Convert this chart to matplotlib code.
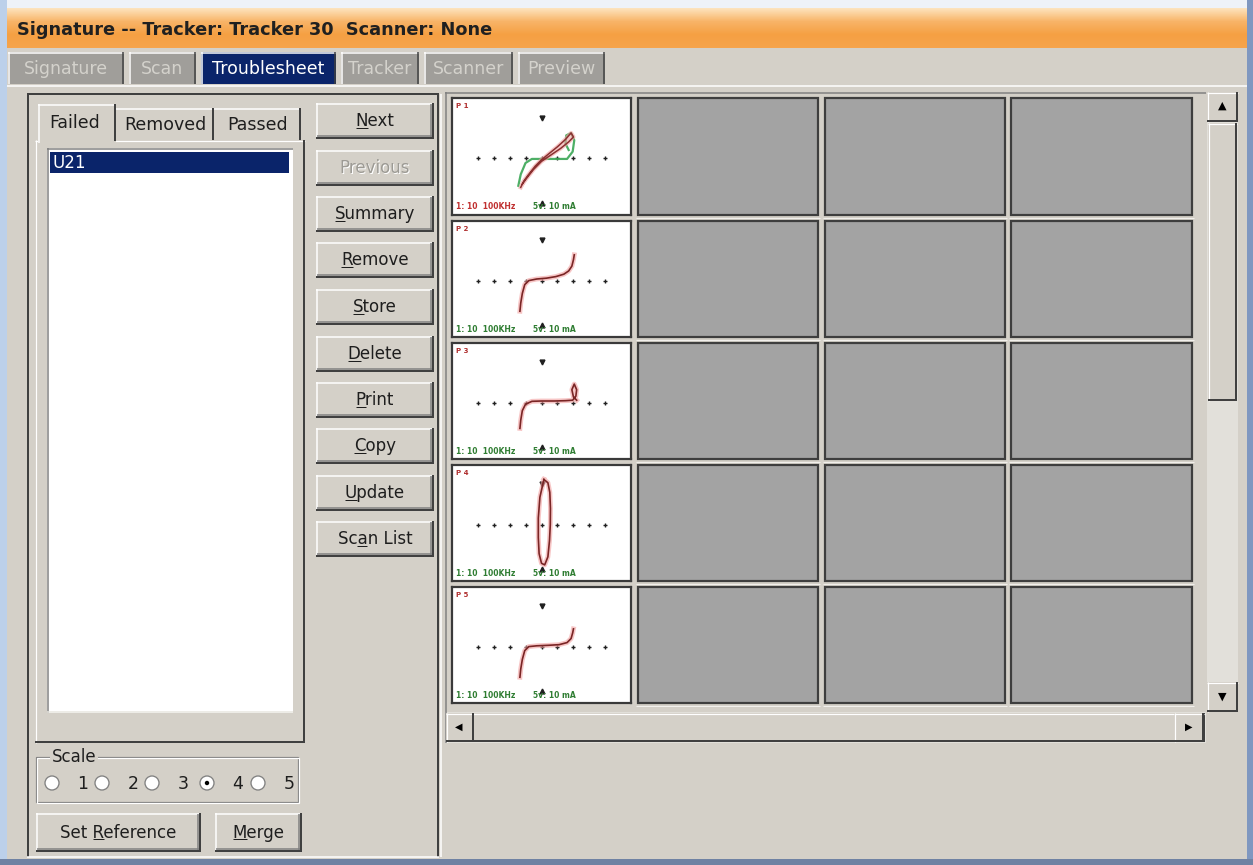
#! /usr/bin/env python
import matplotlib
matplotlib.use('Agg')
import matplotlib.pyplot as plt
from matplotlib.patches import Rectangle, Circle
from matplotlib.colors import LinearSegmentedColormap
import numpy as np

# ---- texts shown in the window ----
title = 'Signature -- Tracker: Tracker 30  Scanner: None'
main_tabs = ['Signature', 'Scan', 'Troublesheet', 'Tracker', 'Scanner', 'Preview']
active_tab = 'Troublesheet'
list_tabs = ['Failed', 'Removed', 'Passed']
failed_parts = ['U21']
buttons = ['Next', 'Previous', 'Summary', 'Remove', 'Store', 'Delete', 'Print', 'Copy', 'Update', 'Scan List']
button_keys = [0, 0, 0, 0, 0, 0, 0, 0, 0, 2]
disabled = ['Previous']
scale_options = ['1', '2', '3', '4', '5']
scale_selected = '4'
pin_labels = ['P 1', 'P 2', 'P 3', 'P 4', 'P 5']
range_text = '1: 10  100KHz'
volt_text = '5v: 10 mA'

# ---- signature traces (grid units: 1 = one tick dot) ----
grid_ticks = [-4, -3, -2, -1, 0, 1, 2, 3, 4]

trace1_red_x = [-1.3, -1.1, -0.8, -0.4, 0.0, 0.5, 1.0, 1.5, 1.85, 2.0, 1.7, 1.2, 0.6, 0.0, -0.5, -0.9, -1.2]
trace1_red_y = [-1.8, -1.4, -1.0, -0.5, -0.1, 0.3, 0.7, 1.15, 1.55, 1.3, 1.0, 0.6, 0.2, -0.2, -0.7, -1.2, -1.6]
trace1_grn_x = [-1.45, -1.3, -1.0, -0.6, 0.2, 1.0, 1.6, 1.95, 2.05, 1.85, 1.55, 1.5, 1.7]
trace1_grn_y = [-1.7, -1.0, -0.3, -0.05, -0.05, -0.05, -0.05, 0.4, 1.1, 1.55, 1.4, 0.9, 0.5]

trace2_x = [-1.35, -1.3, -1.2, -1.05, -0.8, -0.3, 0.3, 0.9, 1.4, 1.7, 1.9, 2.0, 2.05]
trace2_y = [-1.9, -1.4, -0.8, -0.25, 0.0, 0.1, 0.15, 0.25, 0.4, 0.6, 0.9, 1.3, 1.6]

trace3_x = [-1.35, -1.3, -1.2, -1.0, -0.6, 0.0, 0.8, 1.5, 1.95, 2.15, 2.2, 2.05, 1.9, 2.0, 2.2]
trace3_y = [-1.6, -1.1, -0.5, -0.1, 0.08, 0.1, 0.1, 0.12, 0.15, 0.4, 0.8, 1.15, 0.8, 0.35, 0.15]

trace4_x = [0.15, 0.4, 0.52, 0.56, 0.55, 0.5, 0.4, 0.2, 0.0, -0.15, -0.2, -0.2, -0.1, 0.15]
trace4_y = [2.8, 2.6, 2.0, 1.0, 0.0, -1.0, -2.0, -2.5, -2.4, -1.8, -0.8, 0.4, 1.7, 2.8]

trace5_x = [-1.35, -1.3, -1.2, -1.05, -0.8, -0.3, 0.4, 1.1, 1.6, 1.85, 1.95, 2.0]
trace5_y = [-1.9, -1.4, -0.8, -0.25, 0.0, 0.05, 0.08, 0.12, 0.25, 0.5, 0.85, 1.1]

W, H = 1253, 865
BG = '#d4d0c8'
DARK = '#404040'
SHADOW = '#808080'
NAVY = '#0a246a'
PX = 0.72  # points per pixel at 100 dpi

fig = plt.figure(figsize=(W / 100, H / 100), dpi=100)
fig.patch.set_facecolor(BG)
ax = fig.add_axes([0, 0, 1, 1])
ax.set_xlim(0, W)
ax.set_ylim(H, 0)
ax.axis('off')
R = fig.canvas.get_renderer()


def rect(x0, y0, x1, y1, fc, z=1, ec='none', lw=0):
    ax.add_patch(Rectangle((x0, y0), x1 - x0, y1 - y0, facecolor=fc,
                           edgecolor=ec, linewidth=lw * PX, zorder=z))


def hline(x0, x1, y, c, w=1, z=3):
    ax.plot([x0, x1], [y, y], color=c, lw=w * PX, zorder=z, solid_capstyle='butt')


def vline(x, y0, y1, c, w=1, z=3):
    ax.plot([x, x], [y0, y1], color=c, lw=w * PX, zorder=z, solid_capstyle='butt')


def bevel(x0, y0, x1, y1, fc=BG, raised=True, z=2):
    rect(x0, y0, x1, y1, fc, z)
    a, b = ('white', DARK) if raised else (SHADOW, 'white')
    hline(x0, x1, y0 + 0.5, a, 1.2, z + .1)
    vline(x0 + 0.5, y0, y1, a, 1.2, z + .1)
    hline(x0, x1, y1 - 1, b, 2, z + .1)
    vline(x1 - 1, y0, y1, b, 2, z + .1)


def text(x, y, s, size=12, color='#1e1e1e', ul=None, ha='center', weight='normal', z=6, **kw):
    t = ax.text(x, y, s, ha=ha, va='center', fontsize=size, color=color,
                fontweight=weight, zorder=z, **kw)
    if ul is not None:
        bb = t.get_window_extent(R)

        def wid(u):
            tmp = ax.text(0, 0, u, fontsize=size)
            w = tmp.get_window_extent(R).width
            tmp.remove()
            return w
        xr = bb.x0 + wid(s[:ul + 1])
        xl = xr - wid(s[ul])
        hline(xl, xr, H - bb.y0 - 2.5, color, 1, z)
    return t


def button(x0, y0, x1, y1, label, key=None, enabled=True):
    rect(x0, y0, x1, y1, BG, 2)
    hline(x0, x1, y0 + 0.5, 'white', 1.5, 2.1)
    vline(x0 + 0.5, y0, y1, 'white', 1.5, 2.1)
    hline(x0 + 1, x1, y1 - 3, SHADOW, 1.5, 2.1)
    vline(x1 - 3, y0 + 1, y1, SHADOW, 1.5, 2.1)
    hline(x0, x1, y1 - 1, DARK, 2, 2.2)
    vline(x1 - 1, y0, y1, DARK, 2, 2.2)
    cx, cy = (x0 + x1) / 2, (y0 + y1) / 2
    if enabled:
        text(cx, cy, label, 12, ul=key)
    else:
        text(cx + 1, cy + 1, label, 12, color='white')
        text(cx, cy, label, 12, color='#9c9a94')


# ---- window frame and title bar ----
rect(0, 0, W, 8, '#eef2f8', 0.5)
rect(0, 0, 7, H, '#bcd0ea', 0.6)
rect(W - 6, 0, W, H, '#7f97c0', 0.6)
rect(0, H - 6, W, H, '#6f82a3', 0.6)
cm = LinearSegmentedColormap.from_list('tb', ['#fde3bd', '#f8b468', '#f5a043', '#f6a44c'])
grad = np.linspace(0, 1, 40)[:, None]
ax.imshow(grad, extent=[7, W - 6, 48, 8], cmap=cm, aspect='auto', zorder=1, interpolation='bilinear')
text(17, 30, title, 12.8, ha='left', weight='bold', color='#202020')

# ---- main tabs ----
tab_x = [(8, 124), (129, 196), (201, 336), (341, 419), (424, 513), (518, 605)]
for (x0, x1), name in zip(tab_x, main_tabs):
    on = name == active_tab
    rect(x0, 52, x1, 84, NAVY if on else '#a09e9a', 2)
    hline(x0, x1, 52.5, 'white', 1.5, 2.1)
    vline(x0 + 0.5, 52, 84, 'white', 1.5, 2.1)
    vline(x1 - 1, 52, 84, DARK, 1.5, 2.1)
    text((x0 + x1) / 2, 69, name, 12.5, color='white' if on else '#d4d2cc')
hline(7, W - 6, 85.5, 'white', 1.5, 2)

# ---- left pane frame ----
hline(27, 439, 94, DARK, 2)
vline(28, 94, 857, DARK, 2)
vline(438, 94, 857, DARK, 2)
vline(440.5, 94, 857, 'white', 1.5)
hline(27, 439, 857, 'white', 1.5)

# list tab control
bevel(35, 140, 305, 743, raised=True, z=2)
list_tab_x = [(38, 116), (116, 214), (214, 301)]
for i, ((x0, x1), name) in enumerate(zip(list_tab_x, list_tabs)):
    if i == 0:
        rect(x0, 104, x1, 143, BG, 3)
        hline(x0, x1, 104.5, 'white', 1.5, 3.1)
        vline(x0 + 0.5, 104, 143, 'white', 1.5, 3.1)
        vline(x1 - 1, 104, 141, DARK, 2, 3.1)
        text((x0 + x1) / 2 - 2, 123, name, 12.5)
    else:
        hline(x0, x1, 108.5, 'white', 1.5, 3.1)
        vline(x1 - 1, 108, 140, DARK, 2, 3.1)
        text((x0 + x1) / 2, 125, name, 12.5)

# listbox
rect(47, 148, 293, 713, 'white', 3)
hline(47, 293, 148.5, SHADOW, 1.5, 3.1)
vline(47.5, 148, 713, SHADOW, 1.5, 3.1)
hline(47, 293, 712, '#e8e6e0', 1.5, 3.1)
for k, part in enumerate(failed_parts):
    rect(50, 152 + 21 * k, 289, 173 + 21 * k, NAVY, 4)
    text(53, 162.5 + 21 * k, part, 12, ha='left', color='white')

# scale group
rect(36, 757, 298, 802, 'none', 3, ec=SHADOW, lw=1.2)
rect(37, 758, 299, 803, 'none', 3, ec='white', lw=1.2)
text(52, 757, 'Scale', 12, ha='left', bbox=dict(boxstyle='square,pad=0.1', fc=BG, ec='none'))
radio_x = [52, 102, 152, 207, 258]
for rx, opt in zip(radio_x, scale_options):
    ax.add_patch(Circle((rx, 783), 7, facecolor='white', edgecolor=SHADOW, lw=1.3 * PX, zorder=4))
    if opt == scale_selected:
        ax.add_patch(Circle((rx, 783), 2.2, facecolor='black', edgecolor='none', zorder=5))
    text(rx + 31, 784, opt, 12.5)

button(36, 813, 201, 852, 'Set Reference', 4)
button(215, 813, 302, 852, 'Merge', 0)

# ---- command buttons ----
button_tops = [103, 150, 196, 242, 289, 336, 382, 428, 475, 521]
for top, name, key in zip(button_tops, buttons, button_keys):
    button(316, top, 434, top + 36, name, key, enabled=name not in disabled)

# ---- thumbnail panel ----
rect(445, 92, 1206, 743, BG, 2)
hline(445, 1206, 92.5, SHADOW, 1.5, 2.1)
vline(445.5, 92, 743, SHADOW, 1.5, 2.1)
col_x = [(452, 631), (638, 818), (825, 1005), (1011, 1192)]
row_y = [(98, 215), (221, 337), (343, 459), (465, 581), (587, 703)]
for (x0, x1) in col_x[1:]:
    for (y0, y1) in row_y:
        rect(x0, y0, x1, y1, '#a3a3a3', 3, ec='#3e3e3e', lw=2.2)
        hline(x0 - 2, x1 + 2, y1 + 2.5, '#f2f0ec', 1, 3)

# vertical scrollbar
rect(1207, 92, 1238, 712, '#e2e0da', 2)
bevel(1207, 92, 1238, 122, z=3)
text(1222, 106, '\u25b2', 8, color='black')
bevel(1207, 682, 1238, 712, z=3)
text(1222, 697, '\u25bc', 8, color='black')
bevel(1208, 123, 1237, 401, z=3)
# horizontal scrollbar
rect(445, 712, 1206, 743, '#e2e0da', 2)
bevel(446, 713, 1205, 742, z=3)
bevel(446, 713, 474, 742, z=3.5)
text(459, 727, '\u25c0', 7, color='black')
bevel(1174, 713, 1204, 742, z=3.5)
text(1189, 727, '\u25b6', 7, color='black')

# ---- signature thumbnails (first column) ----
traces = [(trace1_red_x, trace1_red_y), (trace2_x, trace2_y), (trace3_x, trace3_y),
          (trace4_x, trace4_y), (trace5_x, trace5_y)]
x0, x1 = col_x[0]
for i, (y0, y1) in enumerate(row_y):
    tax = fig.add_axes([x0 / W, 1 - y1 / H, (x1 - x0) / W, (y1 - y0) / H])
    tax.set_facecolor('white')
    tax.set_xlim(-5.6, 5.6)
    tax.set_ylim(-3.5, 3.7)
    tax.set_xticks([])
    tax.set_yticks([])
    for s in tax.spines.values():
        s.set_color('#3a3a3a')
        s.set_linewidth(2.2 * PX)
    tax.plot(grid_ticks, [0] * len(grid_ticks), '+', color='#202020', ms=3.5, mew=1)
    tax.plot([0], [2.5], 'v', color='#202020', ms=3.5)
    tax.plot([0], [-2.75], '^', color='#202020', ms=3.5)
    tx, ty = traces[i]
    if i == 0:
        tax.plot(trace1_grn_x, trace1_grn_y, color='#3aa655', lw=1.6, alpha=0.9)
        tax.plot(tx, ty, color='#f3a3a3', lw=3, alpha=0.6)
        tax.plot(tx, ty, color='#8a3030', lw=1.1)
    else:
        tax.plot(tx, ty, color='#f2a0a0', lw=3.5, alpha=0.6)
        tax.plot(tx, ty, color='#7a2525', lw=1.2)
    tax.text(0.02, 0.96, pin_labels[i], transform=tax.transAxes, fontsize=5,
             color='#b03030', va='top', fontweight='bold')
    tax.text(0.02, 0.03, range_text, transform=tax.transAxes, fontsize=5.5,
             color='#c03030' if i == 0 else '#2f7d32', va='bottom', fontweight='bold')
    tax.text(0.45, 0.03, volt_text, transform=tax.transAxes, fontsize=5.5,
             color='#2f7d32', va='bottom', fontweight='bold')

ax.set_xlim(0, W)
ax.set_ylim(H, 0)
fig.savefig('out.png', dpi=100, facecolor=BG)
